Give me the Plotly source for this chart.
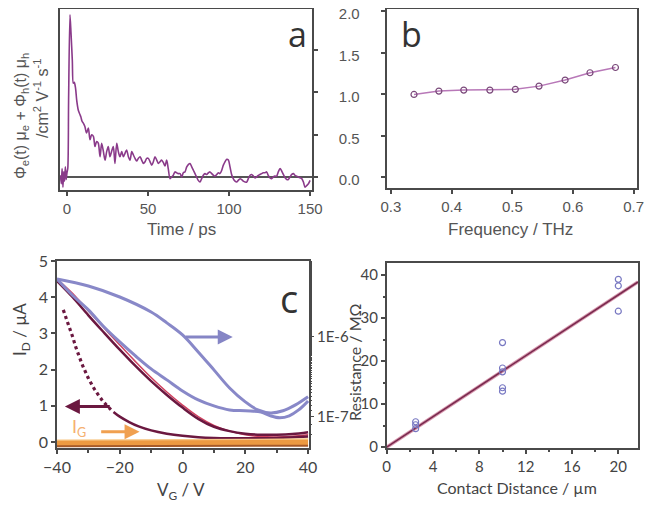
import plotly.graph_objects as go

# ---------------- panel a : transient photoconductivity ----------------
time_ps = [-4, -3.5, -3, -2.5, -2, -1.5, -1, -0.5, 0, 0.5, 1.0, 1.85, 2.5, 3.3, 3.9, 4.5, 5.3, 6.0, 7.0, 8.0,
           8.6, 9.3, 10, 11, 12.1, 13.2, 14.2, 15.2, 16.3, 17.3, 18.3, 19.3, 20.4, 21.4, 22.5, 23.5, 24.5, 25.5,
           26.5, 27.5, 28.6, 29.6, 30.7, 31.7, 32.7, 33.8, 34.8, 35.8, 36.8, 37.9, 38.9, 40.0, 41.0, 42.0, 43.0,
           44.0, 45.1, 46.1, 47.2, 48.2, 49.2, 50.2, 51.3, 52.3, 53.3, 54.3, 55.4, 56.4, 57.4, 58.4, 59.5, 60.5,
           61.5, 62.5, 63.6, 64.6, 65.6, 66.6, 67.7, 68.7, 69.8, 70.8, 71.8, 72.8, 73.9, 75.0, 75.9, 77.0, 78.0,
           79.0, 80.0, 81.0, 82.1, 83.1, 84.1, 85.2, 86.2, 87.3, 88.3, 89.3, 90.4, 91.4, 92.4, 93.4, 94.4, 95.5,
           96.5, 97.5, 98.6, 99.6, 100.6, 101.6, 102.6, 103.7, 104.7, 105.7, 106.8, 107.8, 108.8, 109.9, 110.9,
           111.9, 113.0, 114.0, 115.0, 116.0, 117.0, 118.1, 119.1, 120.1, 121.1, 122.2, 123.2, 124.2, 125.3,
           126.3, 127.3, 128.4, 129.4, 130.4, 131.5, 132.5, 133.5, 134.6, 135.6, 136.6, 137.6, 138.7, 139.7,
           140.7, 141.8, 142.8, 143.9, 144.9, 145.9, 146.9, 148.0, 149.0, 150.0]
mobility_a = [0.02, -0.08, 0.10, -0.12, 0.06, -0.05, 0.12, -0.03, 0.05, 0.10, 0.90, 1.92, 1.70, 1.38, 1.11, 1.12,
              1.05, 0.91, 0.79, 0.74, 0.71, 0.66, 0.64, 0.60, 0.52, 0.58, 0.44, 0.50, 0.48, 0.36, 0.42, 0.40,
              0.24, 0.40, 0.30, 0.20, 0.30, 0.36, 0.24, 0.30, 0.36, 0.16, 0.40, 0.30, 0.24, 0.30, 0.24, 0.28,
              0.32, 0.24, 0.20, 0.30, 0.26, 0.22, 0.19, 0.22, 0.24, 0.20, 0.16, 0.18, 0.22, 0.22, 0.18, 0.14,
              0.18, 0.24, 0.20, 0.16, 0.18, 0.20, 0.17, 0.13, 0.20, 0.10, -0.02, 0.00, 0.02, 0.06, 0.05, 0.04,
              0.04, 0.00, 0.05, 0.06, 0.12, 0.15, 0.16, 0.12, 0.08, 0.04, 0.00, -0.04, -0.06, -0.02, 0.02, 0.04,
              0.03, 0.05, 0.06, 0.04, 0.02, 0.01, 0.03, 0.05, 0.04, 0.08, 0.14, 0.18, 0.21, 0.20, 0.12, 0.03,
              -0.02, -0.05, -0.06, -0.04, -0.02, -0.03, -0.05, -0.06, -0.06, -0.02, 0.02, 0.03, 0.01, -0.01,
              0.00, 0.02, 0.03, 0.04, 0.05, 0.05, 0.06, 0.02, -0.01, -0.02, 0.00, 0.01, 0.01, 0.06, 0.10, 0.07,
              0.03, -0.01, -0.03, -0.03, 0.00, 0.03, 0.04, 0.02, 0.01, 0.00, -0.01, -0.02, -0.06, -0.12, -0.10,
              -0.08, -0.04]

# ---------------- panel b : frequency dependence ----------------
freq_thz = [0.338, 0.379, 0.420, 0.463, 0.505, 0.544, 0.587, 0.628, 0.670]
mobility_b = [0.996, 1.036, 1.048, 1.048, 1.057, 1.096, 1.169, 1.257, 1.320]

# ---------------- panel c : transfer curves ----------------
vg_blue_a = [-40, -30, -20, -10, -5, 0, 5, 10, 15, 20, 24, 28, 32, 36, 40]
id_blue_a = [5.31e-6, 4.34e-6, 3.16e-6, 2.05e-6, 1.50e-6, 1.06e-6, 6.49e-7, 3.87e-7, 2.30e-7, 1.54e-7,
             1.22e-7, 1.12e-7, 1.19e-7, 1.41e-7, 1.78e-7]
vg_blue_b = [-40, -35, -30, -25, -20, -15, -10, -5, 0, 5, 10, 15, 20, 25, 28, 31, 34, 37, 40]
id_blue_b = [5.31e-6, 3.30e-6, 2.18e-6, 1.33e-6, 8.66e-7, 5.79e-7, 3.98e-7, 2.90e-7, 2.11e-7, 1.63e-7,
             1.37e-7, 1.22e-7, 1.19e-7, 1.15e-7, 1.03e-7, 9.72e-8, 1.03e-7, 1.22e-7, 1.58e-7]
vg_lin = [-40, -35, -30, -25, -20, -15, -10, -5, 0, 5, 10, 15, 20, 25, 30, 35, 40]
id_maroon = [4.45, 4.0, 3.5, 3.02, 2.55, 2.1, 1.68, 1.3, 0.95, 0.64, 0.42, 0.3, 0.23, 0.2, 0.2, 0.22, 0.27]
id_red = [4.5, 4.1, 3.62, 3.15, 2.68, 2.22, 1.78, 1.38, 1.02, 0.7, 0.46, 0.3, 0.2, 0.15, 0.14, 0.16, 0.2]
vg_dot = [-38, -37, -36, -35, -34, -33, -32, -31, -30, -29, -28, -27, -26, -25, -24, -23, -22]
id_dot = [3.65, 3.4, 3.15, 2.9, 2.62, 2.38, 2.15, 1.95, 1.76, 1.6, 1.45, 1.32, 1.2, 1.09, 1.0, 0.91, 0.83]
vg_dot_tail = [-22, -20, -17, -14, -10, -5, 0, 5, 10, 20, 30, 40]
id_dot_tail = [0.83, 0.7, 0.55, 0.43, 0.32, 0.23, 0.17, 0.13, 0.11, 0.1, 0.11, 0.15]
vg_ig = [-40, -20, 0, 20, 40]
ig_main = [4.60e-8, 4.60e-8, 4.65e-8, 4.70e-8, 4.75e-8]
ig_upper = [5.00e-8, 5.00e-8, 5.05e-8, 5.10e-8, 5.15e-8]
ig_lower = [4.27e-8, 4.27e-8, 4.30e-8, 4.32e-8, 4.35e-8]

# ---------------- panel d : resistance vs contact distance ----------------
dist_um = [2.5, 2.5, 2.5, 10, 10, 10, 10, 10, 20, 20, 20]
res_mohm = [4.3, 5.2, 5.9, 24.3, 18.4, 17.5, 13.8, 13.0, 39.0, 37.5, 31.6]
fit_dist = [0, 21.7]
fit_res = [0, 38.4]

# the page body has an 8 px default margin, so the figure is sized to fit inside the window
OFF = 8
W, H = 657 - OFF, 505 - OFF
AX = '#4a4a4a'
TXT_A = '#555555'
TXT_C = '#444444'
ARIAL = 'Liberation Sans, Arial, sans-serif'
MYR = 'Lato, Noto Sans, sans-serif'


def px(x):
    return (x - OFF) / W


def py(y):
    return 1 - (y - OFF) / H


fig = go.Figure()

# panel a
fig.add_trace(go.Scatter(x=time_ps, y=mobility_a, mode='lines', xaxis='x', yaxis='y',
                         line=dict(color='#8a3a8a', width=1.6, shape='spline', smoothing=0.8)))
# panel b
fig.add_trace(go.Scatter(x=freq_thz, y=mobility_b, mode='lines+markers', xaxis='x2', yaxis='y2',
                         line=dict(color='#b878b8', width=1.5),
                         marker=dict(symbol='circle-open', size=6, color='#7a4a7a', line=dict(width=1.2))))
# panel c
fig.add_trace(go.Scatter(x=vg_ig, y=ig_upper, mode='lines', xaxis='x3', yaxis='y4',
                         line=dict(color='#f7c98a', width=3)))
fig.add_trace(go.Scatter(x=vg_ig, y=ig_main, mode='lines', xaxis='x3', yaxis='y4',
                         line=dict(color='#ec9a42', width=6)))
fig.add_trace(go.Scatter(x=vg_ig, y=ig_lower, mode='lines', xaxis='x3', yaxis='y4',
                         line=dict(color='#a65a28', width=2)))
fig.add_trace(go.Scatter(x=vg_blue_a, y=id_blue_a, mode='lines', xaxis='x3', yaxis='y4',
                         line=dict(color='#8888c8', width=3, shape='spline')))
fig.add_trace(go.Scatter(x=vg_blue_b, y=id_blue_b, mode='lines', xaxis='x3', yaxis='y4',
                         line=dict(color='#8888c8', width=3, shape='spline')))
fig.add_trace(go.Scatter(x=vg_lin, y=id_red, mode='lines', xaxis='x3', yaxis='y3',
                         line=dict(color='#d0405e', width=1.5, shape='spline')))
fig.add_trace(go.Scatter(x=vg_lin, y=id_maroon, mode='lines', xaxis='x3', yaxis='y3',
                         line=dict(color='#6b1840', width=2.5, shape='spline')))
fig.add_trace(go.Scatter(x=vg_dot, y=id_dot, mode='lines', xaxis='x3', yaxis='y3',
                         line=dict(color='#6b1840', width=3.2, dash='dot', shape='spline')))
fig.add_trace(go.Scatter(x=vg_dot_tail, y=id_dot_tail, mode='lines', xaxis='x3', yaxis='y3',
                         line=dict(color='#6b1840', width=2.5, shape='spline')))
# panel d
fig.add_trace(go.Scatter(x=fit_dist, y=fit_res, mode='lines', xaxis='x4', yaxis='y5',
                         line=dict(color='#d89ab0', width=3.5)))
fig.add_trace(go.Scatter(x=fit_dist, y=fit_res, mode='lines', xaxis='x4', yaxis='y5',
                         line=dict(color='#7a2a4e', width=1.6)))
fig.add_trace(go.Scatter(x=dist_um, y=res_mohm, mode='markers', xaxis='x4', yaxis='y5',
                         marker=dict(symbol='circle-open', size=6, color='#7878c2', line=dict(width=1.2))))

base = dict(showline=True, linecolor=AX, linewidth=2, mirror=True, showgrid=False, zeroline=False,
            ticks='outside', ticklen=4, tickwidth=1.5, tickcolor=AX, automargin=False)

fig.update_layout(
    width=W, height=H, margin=dict(l=0, r=0, t=0, b=0, autoexpand=False),
    paper_bgcolor='white', plot_bgcolor='white', showlegend=False,
    xaxis=dict(base, domain=[px(60), px(312)], anchor='y', range=[-4.3, 151.2],
               tickvals=[0, 50, 100, 150], tickfont=dict(family=ARIAL, size=15, color=TXT_A)),
    yaxis=dict(base, domain=[py(190), py(9)], anchor='x', side='right', range=[-0.154, 1.988],
               tickvals=[0, 0.5, 1, 1.5], showticklabels=False,
               zeroline=True, zerolinecolor='#555555', zerolinewidth=2),
    xaxis2=dict(base, domain=[px(386.7), px(636.7)], anchor='y2', range=[0.293, 0.705],
                tickvals=[0.3, 0.4, 0.5, 0.6, 0.7], tickformat='.1f',
                tickfont=dict(family=ARIAL, size=15, color=TXT_A)),
    yaxis2=dict(base, domain=[py(188), py(9)], anchor='x2', range=[-0.13, 2.024],
                tickvals=[0, 0.5, 1, 1.5, 2], tickformat='.1f', ticklabelstandoff=18,
                ticklabelshift=3, ticklabeloverflow='allow',
                tickfont=dict(family=ARIAL, size=15, color=TXT_A)),
    xaxis3=dict(base, linewidth=1.5, domain=[px(57), px(309)], anchor='y3', range=[-40, 40.3],
                tickvals=[-40, -20, 0, 20, 40], minor=dict(dtick=10, ticks='outside', ticklen=3),
                tickfont=dict(family=MYR, size=16, color=TXT_C)),
    yaxis3=dict(base, linewidth=1.5, domain=[py(448), py(261)], anchor='x3', range=[-0.166, 5.0],
                tickvals=[0, 1, 2, 3, 4, 5], tickfont=dict(family=MYR, size=16, color=TXT_C)),
    yaxis4=dict(showline=False, showgrid=False, zeroline=False, overlaying='y3', anchor='x3', side='right',
                type='log', range=[-7.39, -5.05], tickvals=[1e-7, 1e-6], ticktext=['1E-7', '1E-6'],
                ticks='outside', ticklen=4, tickcolor=AX, automargin=False,
                minor=dict(ticks='outside', ticklen=2, tickcolor=AX),
                tickfont=dict(family=MYR, size=15, color=TXT_C)),
    xaxis4=dict(base, linewidth=1.5, domain=[px(386.7), px(638)], anchor='y5', range=[0, 21.7],
                tickvals=[0, 4, 8, 12, 16, 20], minor=dict(dtick=2, ticks='outside', ticklen=2),
                tickfont=dict(family=MYR, size=15, color=TXT_C)),
    yaxis5=dict(base, linewidth=1.5, domain=[py(448), py(263)], anchor='x4', range=[-0.2, 42.8],
                tickvals=[0, 10, 20, 30, 40], minor=dict(dtick=5, ticks='outside', ticklen=2),
                tickfont=dict(family=MYR, size=15, color=TXT_C)),
)

ann = [
    dict(x=px(297), y=py(34), text='a', font=dict(family='Open Sans', size=34, color='#333')),
    dict(x=px(411), y=py(34), text='b', font=dict(family='Open Sans', size=34, color='#333')),
    dict(x=px(289), y=py(298), text='c', font=dict(family='Open Sans', size=38, color='#333')),
    dict(x=px(22), y=py(116), textangle=-90,
         text='Φ<sub>e</sub>(t) μ<sub>e</sub> + Φ<sub>h</sub>(t) μ<sub>h</sub>',
         font=dict(family=ARIAL, size=16, color=TXT_A)),
    dict(x=px(41), y=py(98), textangle=-90, text='/cm<sup>2</sup> V<sup>-1</sup> s<sup>-1</sup>',
         font=dict(family=ARIAL, size=16, color=TXT_A)),
    dict(x=px(181), y=py(229), text='Time / ps', font=dict(family=ARIAL, size=17, color=TXT_A)),
    dict(x=px(510), y=py(229), text='Frequency / THz', font=dict(family=ARIAL, size=17, color=TXT_A)),
    dict(x=px(21), y=py(330), textangle=-90, text='I<sub>D</sub> / µA',
         font=dict(family=MYR, size=17, color=TXT_C)),
    dict(x=px(181), y=py(491), text='V<sub>G</sub> / V', font=dict(family=MYR, size=17, color=TXT_C)),
    dict(x=px(354), y=py(363), textangle=-90, text='Resistance / MΩ',
         font=dict(family=MYR, size=16, color=TXT_C)),
    dict(x=px(517), y=py(487), text='Contact Distance / µm', font=dict(family=MYR, size=16, color=TXT_C)),
]
for a in ann:
    a.update(xref='paper', yref='paper', showarrow=False, xanchor='center', yanchor='middle')
    fig.add_annotation(**a)

fig.add_annotation(x=-33, y=0.4, xref='x3', yref='y3', text='I<sub>G</sub>', showarrow=False,
                   font=dict(family=MYR, size=18, color='#f5b070'))
arrows = [
    dict(x=16, y=2.9, ax=0.5, ay=2.9, arrowcolor='#8585c5'),
    dict(x=-37.5, y=0.98, ax=-22.7, ay=0.98, arrowcolor='#6b1840'),
    dict(x=-13.7, y=0.28, ax=-26.4, ay=0.28, arrowcolor='#f0a050'),
]
for a in arrows:
    fig.add_annotation(xref='x3', yref='y3', axref='x3', ayref='y3', text='', showarrow=True,
                       arrowhead=2, arrowsize=1, arrowwidth=3, **a)

fig.write_html('out.html')
